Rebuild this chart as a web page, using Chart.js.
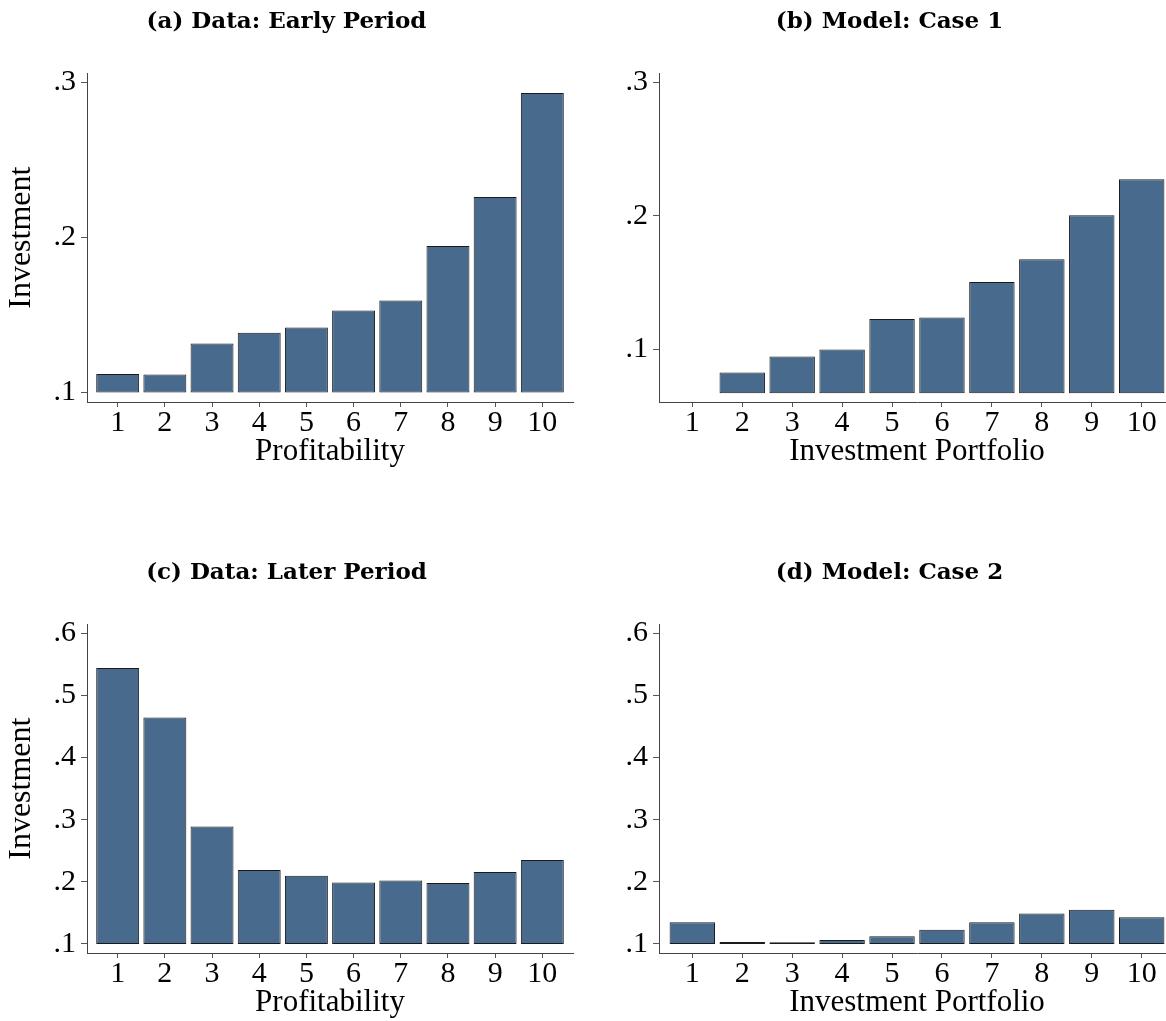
<!DOCTYPE html>
<html>
<head>
<meta charset="utf-8">
<script src="https://cdn.jsdelivr.net/npm/chart.js@4.4.1/dist/chart.umd.min.js"></script>
<style>
  html, body { margin: 0; padding: 0; background: #fff; }
  body { width: 1166px; height: 1021px; overflow: hidden; position: relative; }
  .panel { position: absolute; }
</style>
</head>
<body>
<div class="panel" style="left:0px;top:0px"><canvas id="chartA" width="580" height="480"></canvas></div>
<div class="panel" style="left:604px;top:0px"><canvas id="chartB" width="576" height="480"></canvas></div>
<div class="panel" style="left:0px;top:551px"><canvas id="chartC" width="580" height="480"></canvas></div>
<div class="panel" style="left:604px;top:551px"><canvas id="chartD" width="576" height="480"></canvas></div>
<script>
// portfolio numbers on the x axis
const portfolios = [1, 2, 3, 4, 5, 6, 7, 8, 9, 10];
const xTickLabels = ['1', '2', '3', '4', '5', '6', '7', '8', '9', '10'];

// investment per portfolio
const earlyPeriod = [0.112, 0.1116, 0.1316, 0.1385, 0.1419, 0.1529, 0.1594, 0.1944, 0.226, 0.2931];
const modelCase1 = [0.0669, 0.0825, 0.0945, 0.0997, 0.1226, 0.1238, 0.1504, 0.1674, 0.2003, 0.2273];
const laterPeriod = [0.544, 0.4645, 0.289, 0.219, 0.21, 0.199, 0.202, 0.198, 0.216, 0.235];
const modelCase2 = [0.135, 0.1032, 0.1027, 0.1065, 0.1124, 0.123, 0.135, 0.149, 0.155, 0.143];

// where the bars start
const baseEarly = 0.1;
const baseCase1 = 0.0669;
const baseLater = 0.1;
const baseCase2 = 0.1;

// y ticks
const yTicksTop = [0.1, 0.2, 0.3];
const yLabelsTop = ['.1', '.2', '.3'];
const yTicksBottom = [0.1, 0.2, 0.3, 0.4, 0.5, 0.6];
const yLabelsBottom = ['.1', '.2', '.3', '.4', '.5', '.6'];

const serif = "'Liberation Serif', 'Times New Roman', serif";
const titleFont = "'DejaVu Serif', serif";
const barFill = '#486a8c';
const barEdge = '#1a1a1a';
const axisColor = '#444444';

function setupPanel(id, opts) {
  const context = document.getElementById(id).getContext('2d');
  const points = portfolios.map((p, i) => ({ x: p, y: [opts.base, opts.values[i]] }));

  new Chart(context, {
    type: 'bar',
    data: {
      datasets: [
        {
          data: points,
          backgroundColor: barFill,
          borderColor: barEdge,
          borderWidth: (c) => (c.raw && c.raw.y[1] > c.raw.y[0] ? 1 : 0),
          borderSkipped: false,
          barPercentage: 0.91,
          categoryPercentage: 1,
        },
      ],
    },
    options: {
      responsive: false,
      animation: false,
      devicePixelRatio: 1,
      layout: { padding: { left: 0, right: opts.padRight, top: 0, bottom: 0 } },
      plugins: {
        legend: { display: false },
        tooltip: { enabled: false },
        title: {
          display: true,
          text: opts.title,
          color: '#000',
          font: { family: titleFont, size: 23, weight: 'bold', lineHeight: 1.2 },
          padding: { top: 8.2, bottom: 37.5 },
        },
      },
      scales: {
        x: {
          type: 'linear',
          min: opts.xMin,
          max: opts.xMax,
          offset: false,
          afterBuildTicks: (s) => {
            s.ticks = portfolios.map((v) => ({ value: v }));
          },
          afterFit: (s) => {
            s.height = 78;
          },
          ticks: {
            color: '#000',
            padding: 1,
            maxRotation: 0,
            autoSkip: false,
            font: { family: serif, size: 30, lineHeight: 1.0 },
            callback: (v) => xTickLabels[portfolios.indexOf(v)],
          },
          grid: { display: true, drawOnChartArea: false, drawTicks: true, tickLength: 5, color: '#555', offset: false },
          border: { display: true, color: axisColor, width: 1 },
          title: {
            display: true,
            text: opts.xTitle,
            color: '#000',
            font: { family: serif, size: 31, lineHeight: 1.2 },
            padding: { top: 0, bottom: 9.5 },
          },
        },
        y: {
          type: 'linear',
          min: opts.yMin,
          max: opts.yMax,
          afterBuildTicks: (s) => {
            s.ticks = opts.yTicks.map((v) => ({ value: v }));
          },
          afterFit: (s) => {
            s.width = opts.yWidth;
          },
          ticks: {
            color: '#000',
            padding: 5,
            font: { family: serif, size: 30, lineHeight: 1.0 },
            callback: (v) => opts.yLabels[opts.yTicks.indexOf(v)],
          },
          grid: { display: true, drawOnChartArea: false, drawTicks: true, tickLength: 6, color: '#555' },
          border: { display: true, color: axisColor, width: 1 },
          title: {
            display: !!opts.yTitle,
            text: opts.yTitle || '',
            color: '#000',
            font: { family: serif, size: 32, lineHeight: 1.2 },
            padding: { top: 2, bottom: 0 },
          },
        },
      },
    },
  });
}

setupPanel('chartA', {
  title: '(a) Data: Early Period',
  values: earlyPeriod,
  base: baseEarly,
  yTicks: yTicksTop,
  yLabels: yLabelsTop,
  yMin: 0.0939,
  yMax: 0.3058,
  xMin: 0.35,
  xMax: 10.65,
  yWidth: 87,
  padRight: 7,
  xTitle: 'Profitability',
  yTitle: 'Investment',
});

setupPanel('chartB', {
  title: '(b) Model: Case 1',
  values: modelCase1,
  base: baseCase1,
  yTicks: yTicksTop,
  yLabels: yLabelsTop,
  yMin: 0.0604,
  yMax: 0.3068,
  xMin: 0.333,
  xMax: 10.667,
  yWidth: 55,
  padRight: 5,
  xTitle: 'Investment Portfolio',
});

setupPanel('chartC', {
  title: '(c) Data: Later Period',
  values: laterPeriod,
  base: baseLater,
  yTicks: yTicksBottom,
  yLabels: yLabelsBottom,
  yMin: 0.0855,
  yMax: 0.6145,
  xMin: 0.35,
  xMax: 10.65,
  yWidth: 87,
  padRight: 7,
  xTitle: 'Profitability',
  yTitle: 'Investment',
});

setupPanel('chartD', {
  title: '(d) Model: Case 2',
  values: modelCase2,
  base: baseCase2,
  yTicks: yTicksBottom,
  yLabels: yLabelsBottom,
  yMin: 0.0855,
  yMax: 0.6145,
  xMin: 0.333,
  xMax: 10.667,
  yWidth: 55,
  padRight: 5,
  xTitle: 'Investment Portfolio',
});
</script>
</body>
</html>
